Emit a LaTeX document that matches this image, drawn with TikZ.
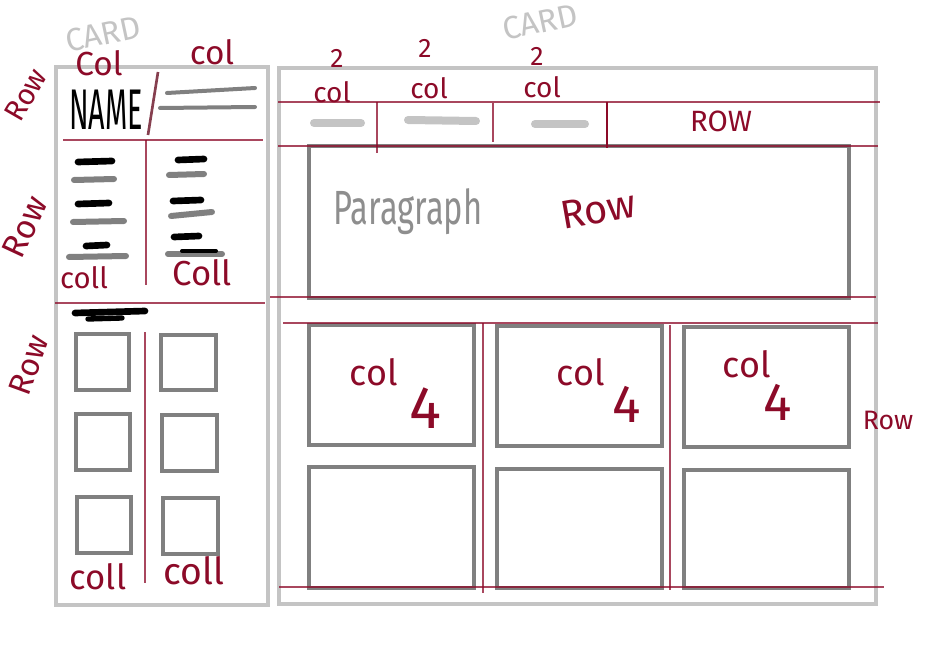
\documentclass[tikz,border=0pt]{standalone}
\usepackage{fontspec}
\setmainfont{Fira Sans}
\definecolor{mred}{HTML}{8C0A28}
\definecolor{cardgray}{HTML}{C4C4C4}
\definecolor{boxgray}{HTML}{808080}
\definecolor{inkgray}{HTML}{8E8E8E}
\newcommand{\fs}[1]{\fontsize{#1}{#1}\selectfont}
\begin{document}
\begin{tikzpicture}[x=0.75pt,y=-0.75pt,
  card/.style={draw=cardgray, line width=3pt},
  wbox/.style={draw=boxgray, line width=3pt},
  guide/.style={draw=mred, line width=1.5pt, draw opacity=0.75},
  ink/.style={inner sep=0pt, text=mred},
  pale/.style={inner sep=0pt, text=cardgray},
  blk/.style={draw=black, line width=5pt, line cap=round},
  gry/.style={draw=boxgray, line width=4.5pt, line cap=round},
  lgt/.style={draw=cardgray, line width=6pt, line cap=round},
]
\useasboundingbox (0,0) rectangle (931,663);

% ---------- cards ----------
\draw[card] (55.5,67.5) rectangle (268,605);
\draw[card] (279,68) rectangle (876,604);

% ---------- left card content ----------
\node[inner sep=0pt, font=\fs{43}, xscale=0.5] (name) at (106,110) {NAME};
\draw[gry, line width=3pt] (167,93) -- (255,88);
\draw[gry, line width=3pt] (160,108) -- (255,107);

\draw[blk] (78,162) -- (112,161);
\draw[gry] (74,180) -- (114,179);
\draw[blk] (78,204) -- (109,203);
\draw[gry] (73,222) -- (124,221);
\draw[blk] (86,246) -- (107,245);
\draw[gry] (69,257) -- (126,256);

\draw[blk] (178,160) -- (204,159);
\draw[gry] (169,175) -- (204,174);
\draw[blk] (173,201) -- (201,200);
\draw[gry] (171,216) -- (212,212);
\draw[blk] (174,237) -- (199,236);
\draw[gry] (168,254) -- (222,254);
\draw[blk, line width=3pt] (182,251) -- (216,251);

\draw[blk] (75,313) -- (145,311);
\draw[blk, line width=4pt] (88,319) -- (122,318);

\draw[wbox] (76,334) rectangle (129,390);
\draw[wbox] (76,414) rectangle (130,470);
\draw[wbox] (77,497) rectangle (131,553);
\draw[wbox] (161,335) rectangle (216,390);
\draw[wbox] (162,415) rectangle (217,471);
\draw[wbox] (163,498) rectangle (218,554);

% left card guides
\draw[guide] (63,140) -- (263,140);
\draw[guide] (146,140) -- (146,285);
\draw[guide] (55,303) -- (265,303);
\draw[guide] (145,332) -- (145,583);
\draw[draw=mred!55!gray, line width=2pt] (158,72) -- (148,135);

% left labels
\node[pale, font=\fs{24}, rotate=12] (card1) at (103,34) {CARD};
\node[ink, font=\fs{25}] (col1) at (99,63) {Col};
\node[ink, font=\fs{25}] (col2) at (212,52) {col};
\node[ink, font=\fs{22}, rotate=60] (row1) at (26,95) {Row};
\node[ink, font=\fs{25}, rotate=65] (row2) at (25,227) {Row};
\node[ink, font=\fs{24}, rotate=70] (row3) at (29,365) {Row};
\node[ink, font=\fs{22}] (coll1) at (84,278) {coll};
\node[ink, font=\fs{26}] (coll2) at (202,273) {Coll};
\node[ink, font=\fs{26}] (coll3) at (98,577) {coll};
\node[ink, font=\fs{28}] (coll4) at (194,571) {coll};

% ---------- right card content ----------
\draw[lgt] (314,123) -- (361,123);
\draw[lgt] (408,120) -- (476,121);
\draw[lgt] (535,124) -- (585,124);

\draw[wbox] (309,146) rectangle (849,298);

\draw[wbox] (309,325) rectangle (474,445);
\draw[wbox] (497,326) rectangle (662,446);
\draw[wbox] (684,327) rectangle (849,447);
\draw[wbox] (309,467) rectangle (474,588);
\draw[wbox] (497,469) rectangle (662,588);
\draw[wbox] (684,470) rectangle (849,588);

% right card guides
\draw[guide] (278,102) -- (880,102);
\draw[guide] (278,146) -- (878,146);
\draw[guide] (377,102) -- (377,153);
\draw[guide] (493,103) -- (493,142);
\draw[draw=mred, line width=2.2pt] (607,102) -- (607,148);
\draw[guide] (270,297) -- (876,297);
\draw[guide] (283,323) -- (878,323);
\draw[guide] (483,323) -- (483,593);
\draw[guide] (670,325) -- (670,590);
\draw[guide] (279,587) -- (884,587);

% right labels
\node[pale, font=\fs{24}, rotate=12] (card2) at (540,22) {CARD};
\node[ink, font=\fs{20}] (two1) at (337,58) {2};
\node[ink, font=\fs{20}] (two2) at (425,48) {2};
\node[ink, font=\fs{20}] (two3) at (537,56) {2};
\node[ink, font=\fs{21}] (tc1) at (332,92) {col};
\node[ink, font=\fs{21}] (tc2) at (429,88) {col};
\node[ink, font=\fs{21}] (tc3) at (542,87) {col};
\node[ink, font=\fs{22}] (rowtop) at (721,121) {ROW};
\node[inner sep=0pt, text=inkgray, font=\fs{36}, xscale=0.68] (para) at (408,212) {Paragraph};
\node[ink, font=\fs{30}, rotate=10] (rowpara) at (598,210) {Row};
\node[ink, font=\fs{27}] (g1) at (374,372) {col};
\node[ink, font=\fs{45}] (g1n) at (425,408) {4};
\node[ink, font=\fs{27}] (g2) at (581,372) {col};
\node[ink, font=\fs{40}] (g2n) at (627,404) {4};
\node[ink, font=\fs{27}] (g3) at (747,364) {col};
\node[ink, font=\fs{40}] (g3n) at (778,402) {4};
\node[ink, font=\fs{20}] (rowgrid) at (888,420) {Row};
\end{tikzpicture}
\end{document}
